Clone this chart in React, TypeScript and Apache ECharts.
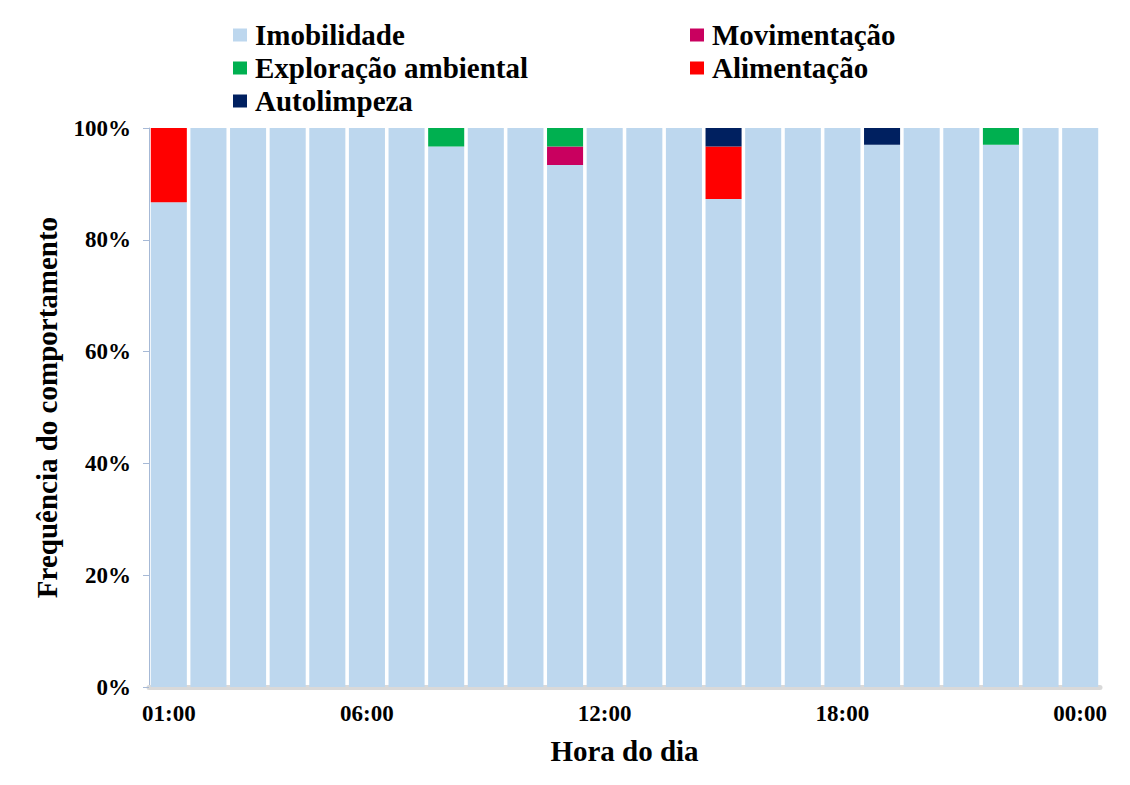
import React, { useEffect, useRef } from "react";
import * as echarts from "echarts";

const hours = [
  "01:00", "02:00", "03:00", "04:00", "05:00", "06:00", "07:00", "08:00",
  "09:00", "10:00", "11:00", "12:00", "13:00", "14:00", "15:00", "16:00",
  "17:00", "18:00", "19:00", "20:00", "21:00", "22:00", "23:00", "00:00",
];
const shownLabels = ["01:00", "06:00", "12:00", "18:00", "00:00"];

const imobilidade = [86.7, 100, 100, 100, 100, 100, 100, 96.7, 100, 100, 93.4, 100, 100, 100, 87.3, 100, 100, 100, 97, 100, 100, 97, 100, 100];
const movimentacao = [0, 0, 0, 0, 0, 0, 0, 0, 0, 0, 3.3, 0, 0, 0, 0, 0, 0, 0, 0, 0, 0, 0, 0, 0];
const exploracao = [0, 0, 0, 0, 0, 0, 0, 3.3, 0, 0, 3.3, 0, 0, 0, 0, 0, 0, 0, 0, 0, 0, 3, 0, 0];
const alimentacao = [13.3, 0, 0, 0, 0, 0, 0, 0, 0, 0, 0, 0, 0, 0, 9.4, 0, 0, 0, 0, 0, 0, 0, 0, 0];
const autolimpeza = [0, 0, 0, 0, 0, 0, 0, 0, 0, 0, 0, 0, 0, 0, 3.3, 0, 0, 0, 3, 0, 0, 0, 0, 0];

const seriesNames = ["Imobilidade", "Movimentação", "Exploração ambiental", "Alimentação", "Autolimpeza"];
const seriesData = [imobilidade, movimentacao, exploracao, alimentacao, autolimpeza];
const colors = ["#BDD7EE", "#C9005F", "#00B050", "#FF0000", "#002060"];
const yTicks = [0, 20, 40, 60, 80, 100];

const FONT = "Liberation Serif";

export default function App() {
  const ref = useRef<HTMLDivElement>(null);
  useEffect(() => {
    if (!ref.current) return;
    const chart = echarts.init(ref.current, null, { renderer: "svg" });
    const legendPos = [
      { left: 233, top: 35 },
      { left: 690, top: 35 },
      { left: 233, top: 68 },
      { left: 690, top: 68 },
      { left: 233, top: 101 },
    ];
    const legendText = {
      fontFamily: FONT,
      fontWeight: "bold",
      fontSize: 29,
      color: "#000",
      lineHeight: 30,
      padding: [0, 0, 0, 3],
    };
    chart.setOption({
      animation: false,
      backgroundColor: "#ffffff",
      color: colors,
      textStyle: { fontFamily: FONT, fontWeight: "bold", color: "#000" },
      legend: seriesNames.map((n, i) => ({
        data: [{ name: n, textStyle: legendText }],
        left: legendPos[i].left,
        top: legendPos[i].top - 15,
        padding: 0,
        itemWidth: 14,
        itemHeight: 13,
        icon: "rect",
        selectedMode: false,
        textStyle: legendText,
      })),
      grid: { left: 149, right: 30, top: 128, bottom: 98, containLabel: false },
      xAxis: {
        type: "category",
        data: hours,
        name: "Hora do dia",
        nameLocation: "middle",
        nameGap: 49,
        nameTextStyle: { fontFamily: FONT, fontWeight: "bold", fontSize: 29, color: "#000" },
        axisLine: { show: true, lineStyle: { color: "#D9D9D9", width: 5 } },
        axisTick: { show: false },
        axisLabel: {
          interval: (idx: number, val: string) => shownLabels.includes(val),
          margin: 15,
          fontFamily: FONT,
          fontWeight: "bold",
          fontSize: 23,
          color: "#000",
        },
      },
      yAxis: {
        type: "value",
        min: 0,
        max: 100,
        interval: 20,
        name: "Frequência do comportamento",
        nameLocation: "middle",
        nameGap: 88,
        nameTextStyle: { fontFamily: FONT, fontWeight: "bold", fontSize: 29, color: "#000" },
        axisLine: { show: true, lineStyle: { color: "#A6B9D6", width: 1 } },
        axisTick: { show: true, length: 6, lineStyle: { color: "#A6B9D6" } },
        splitLine: { show: false },
        axisLabel: {
          formatter: (v: number) => (yTicks.includes(v) ? v + "%" : ""),
          margin: 18,
          fontFamily: FONT,
          fontWeight: "bold",
          fontSize: 23,
          color: "#000",
        },
      },
      series: seriesNames.map((n, i) => ({
        name: n,
        type: "bar",
        stack: "total",
        data: seriesData[i],
        barCategoryGap: "9%",
        itemStyle: { color: colors[i] },
      })),
    });
    return () => chart.dispose();
  }, []);
  return (
    <div
      ref={ref}
      style={{ position: "absolute", left: 0, top: 0, width: 1130, height: 785 }}
    />
  );
}
